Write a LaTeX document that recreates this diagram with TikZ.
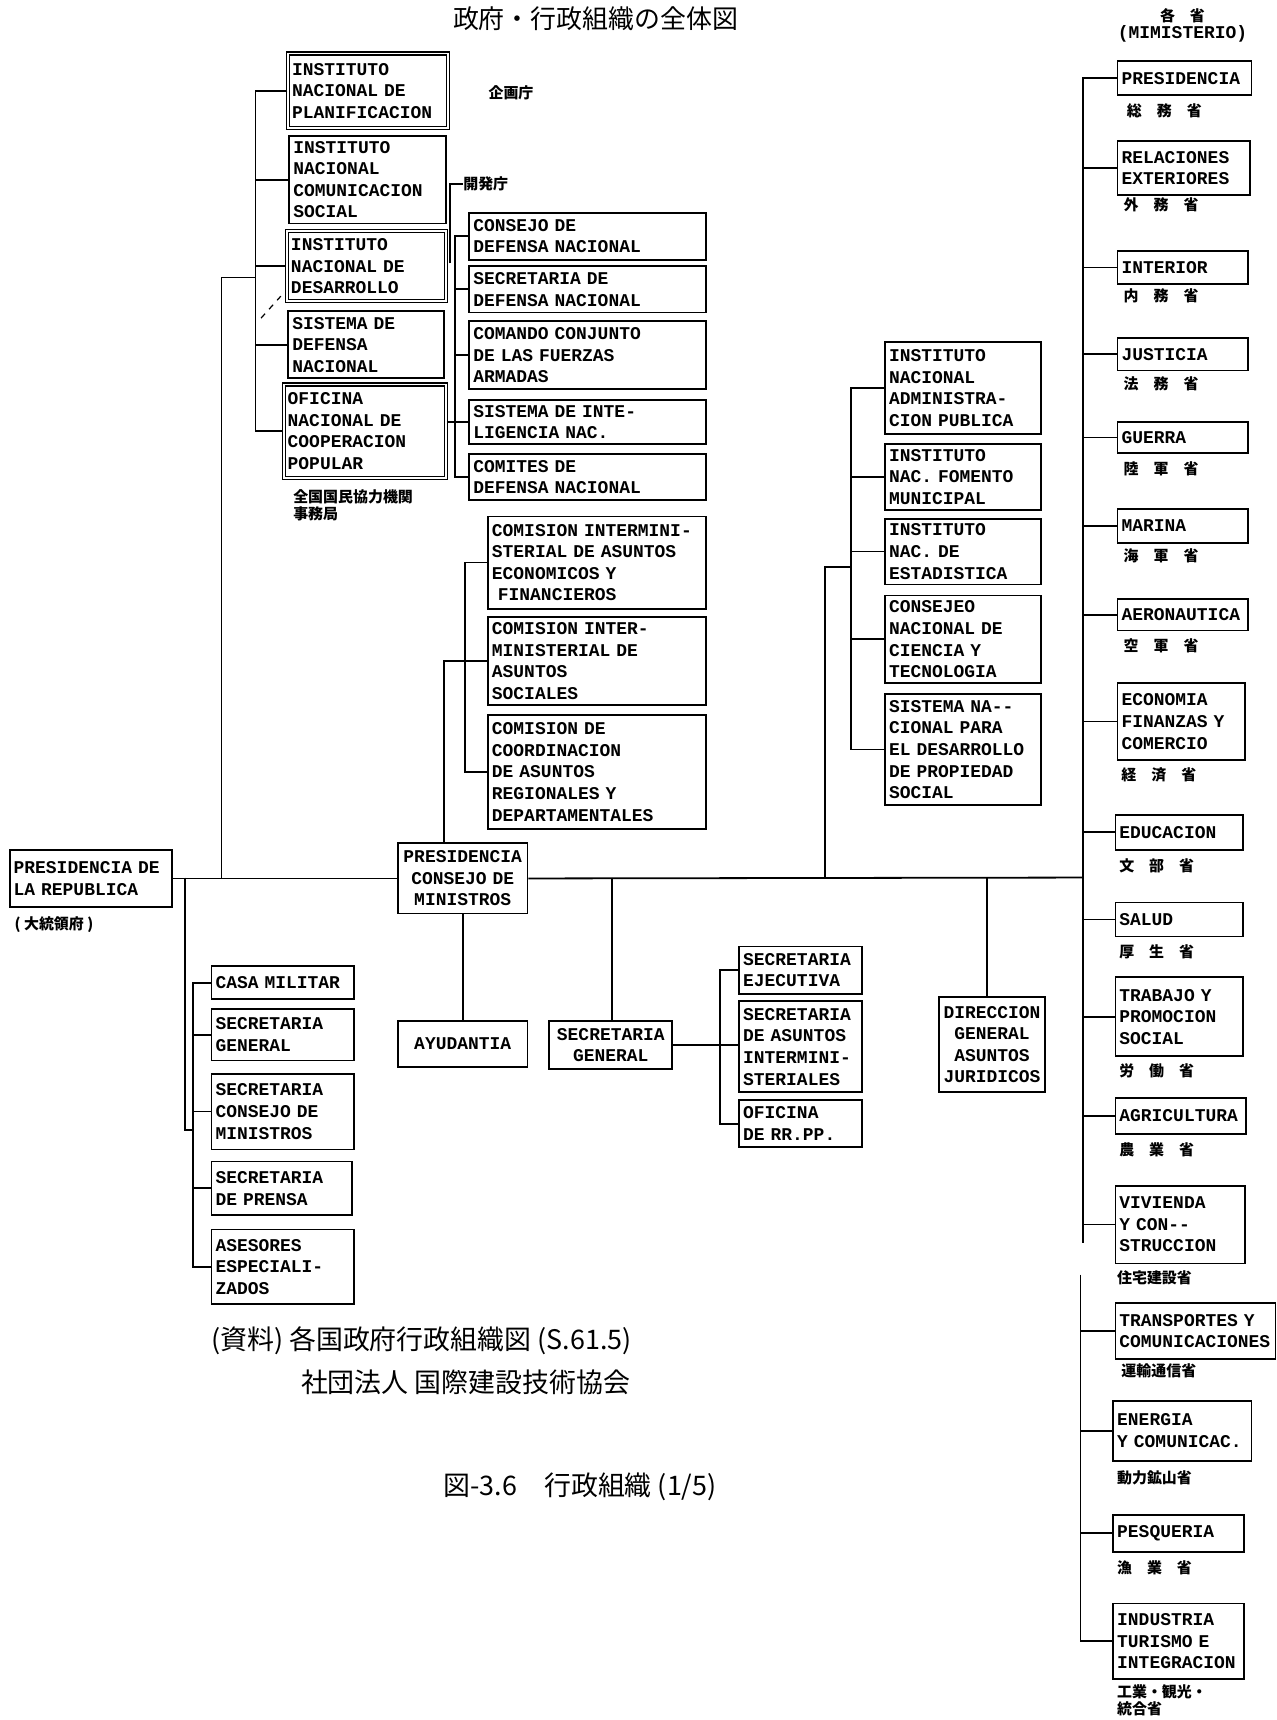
\documentclass[tikz,border=0pt]{standalone}
\usepackage{fontspec}
\setmonofont{Liberation Mono}
\newfontfamily\jp{Noto Sans CJK JP}
\tikzset{
  box/.style={draw, line width=0.9pt, anchor=north west, inner xsep=2pt, inner ysep=1pt,
    align=left, font=\ttfamily\bfseries\fontsize{9}{10.8}\selectfont},
  sz/.code 2 args={\pgfmathsetmacro\boxw{#1*0.55-4}\pgfmathsetmacro\boxh{#2*0.55}%
    \tikzset{text width=\boxw pt, minimum height=\boxh pt}},
  heavy/.style={double, double distance=0.8pt, line width=0.7pt},
  jl/.style={anchor=west, inner sep=0pt, font=\jp\bfseries\fontsize{7.5}{8.5}\selectfont},
  foot/.style={anchor=west, font=\jp\fontsize{13.5}{16}\selectfont},
  link/.style={line width=0.9pt},
}
\begin{document}
\begin{tikzpicture}[x=0.55pt,y=-0.55pt]
\fill[white] (0,0) rectangle (1163,1568);

\node[anchor=north, font=\jp\fontsize{13}{15}\selectfont] (title) at (543,0) {政府・行政組織の全体図};

% president
\node[box, sz={148}{52}] (prep) at (8,774) {PRESIDENCIA DE\\LA REPUBLICA};
\node[jl] (prepj) at (13,843) {( 大統領府 )};

% upper left group
\node[box, heavy, sz={146}{68}] (inp) at (262,48) {INSTITUTO\\NACIONAL DE\\PLANIFICACION};
\node[box, sz={143}{80}] (incs) at (263,123) {INSTITUTO\\NACIONAL\\COMUNICACION\\SOCIAL};
\node[box, heavy, sz={145}{64}] (indes) at (261,210) {INSTITUTO\\NACIONAL DE\\DESARROLLO};
\node[box, sz={142}{61}] (sdn) at (262,283) {SISTEMA DE\\DEFENSA\\NACIONAL};
\node[box, heavy, sz={148}{85}] (oncp) at (258,350) {OFICINA\\NACIONAL DE\\COOPERACION\\POPULAR};
\node[jl] (kikaku) at (445,85) {企画庁};
\node[jl] (kaihatsu) at (422,168) {開発庁};
\node[jl, align=left] (zenkoku) at (267,461) {全国国民協力機関\\事務局};

% defense
\node[box, sz={216}{43}] (cdn) at (427,193) {CONSEJO DE\\DEFENSA NACIONAL};
\node[box, sz={216}{42}] (sdef) at (427,242) {SECRETARIA DE\\DEFENSA NACIONAL};
\node[box, sz={216}{62}] (ccffaa) at (427,292) {COMANDO CONJUNTO\\DE LAS FUERZAS\\ARMADAS};
\node[box, sz={216}{40}] (sint) at (427,364) {SISTEMA DE INTE-\\LIGENCIA NAC.};
\node[box, sz={216}{42}] (cmt) at (427,413) {COMITES DE\\DEFENSA NACIONAL};

% commissions
\node[box, sz={199}{84}] (cimaef) at (444,470) {COMISION INTERMINI-\\STERIAL DE ASUNTOS\\ECONOMICOS Y\\~FINANCIEROS};
\node[box, sz={199}{80}] (cias) at (444,562) {COMISION INTER-\\MINISTERIAL DE\\ASUNTOS\\SOCIALES};
\node[box, sz={199}{104}] (ccard) at (444,651) {COMISION DE\\COORDINACION\\DE ASUNTOS\\REGIONALES Y\\DEPARTAMENTALES};

% institutes
\node[box, sz={142}{84}] (inap) at (806,311) {INSTITUTO\\NACIONAL\\ADMINISTRA-\\CION PUBLICA};
\node[box, sz={142}{60}] (infm) at (806,404) {INSTITUTO\\NAC. FOMENTO\\MUNICIPAL};
\node[box, sz={142}{60}] (ine) at (806,472) {INSTITUTO\\NAC. DE\\ESTADISTICA};
\node[box, sz={142}{80}] (concytec) at (806,542) {CONSEJEO\\NACIONAL DE\\CIENCIA Y\\TECNOLOGIA};
\node[box, sz={142}{101}] (sinadeps) at (806,632) {SISTEMA NA-{}-\\CIONAL PARA\\EL DESARROLLO\\DE PROPIEDAD\\SOCIAL};

% council of ministers
\node[box, align=center, sz={118}{64}] (pcm) at (362,768) {PRESIDENCIA\\CONSEJO DE\\MINISTROS};
\node[box, align=center, sz={118}{42}] (ayud) at (362,930) {AYUDANTIA};
\node[box, align=center, sz={112}{44}] (sg) at (500,930) {SECRETARIA\\GENERAL};
\node[box, sz={112}{43}] (sej) at (673,862) {SECRETARIA\\EJECUTIVA};
\node[box, sz={112}{83}] (sai) at (673,912) {SECRETARIA\\DE ASUNTOS\\INTERMINI-\\STERIALES};
\node[box, sz={112}{43}] (orp) at (673,1002) {OFICINA\\DE RR.PP.};
\node[box, align=center, sz={97}{87}] (dgaj) at (855,908) {DIRECCION\\GENERAL\\ASUNTOS\\JURIDICOS};

% presidency staff
\node[box, sz={130}{30}] (casa) at (192,880) {CASA MILITAR};
\node[box, sz={130}{47}] (sgen) at (192,919) {SECRETARIA\\GENERAL};
\node[box, sz={130}{69}] (scm) at (192,978) {SECRETARIA\\CONSEJO DE\\MINISTROS};
\node[box, sz={128}{49}] (spr) at (192,1058) {SECRETARIA\\DE PRENSA};
\node[box, sz={130}{68}] (ase) at (192,1120) {ASESORES\\ESPECIALI-\\ZADOS};

% ministries
\node[font=\jp\bfseries\fontsize{7.5}{8}\selectfont] (kakusho) at (1078,14) {各\quad 省};
\node[font=\ttfamily\bfseries\fontsize{9}{10}\selectfont] (minist) at (1078,31) {(MIMISTERIO)};
\node[box, sz={122}{31}] (mpres) at (1018,55) {PRESIDENCIA};
\node[box, sz={121}{49}] (mrel) at (1018,128) {RELACIONES\\EXTERIORES};
\node[box, sz={119}{30}] (mint) at (1018,228) {INTERIOR};
\node[box, sz={119}{30}] (mjus) at (1018,307) {JUSTICIA};
\node[box, sz={119}{28}] (mgue) at (1018,384) {GUERRA};
\node[box, sz={119}{31}] (mmar) at (1018,463) {MARINA};
\node[box, sz={119}{29}] (maer) at (1018,545) {AERONAUTICA};
\node[box, sz={116}{70}] (meco) at (1018,622) {ECONOMIA\\FINANZAS Y\\COMERCIO};
\node[box, sz={116}{32}] (medu) at (1016,742) {EDUCACION};
\node[box, sz={116}{31}] (msal) at (1016,822) {SALUD};
\node[box, sz={116}{72}] (mtra) at (1016,890) {TRABAJO Y\\PROMOCION\\SOCIAL};
\node[box, sz={119}{33}] (magr) at (1016,1000) {AGRICULTURA};
\node[box, sz={118}{71}] (mviv) at (1016,1080) {VIVIENDA\\Y CON-{}-\\STRUCCION};
\node[box, sz={146}{51}] (mtrn) at (1016,1187) {TRANSPORTES Y\\COMUNICACIONES};
\node[box, sz={126}{55}] (mene) at (1014,1276) {ENERGIA\\Y COMUNICAC.};
\node[box, sz={119}{34}] (mpes) at (1014,1380) {PESQUERIA};
\node[box, sz={119}{69}] (mind) at (1014,1461) {INDUSTRIA\\TURISMO E\\INTEGRACION};

\node[jl] (jpres) at (1027,101) {総\quad 務\quad 省};
\node[jl] (jrel) at (1024,187) {外\quad 務\quad 省};
\node[jl] (jint) at (1024,270) {内\quad 務\quad 省};
\node[jl] (jjus) at (1024,350) {法\quad 務\quad 省};
\node[jl] (jgue) at (1024,427) {陸\quad 軍\quad 省};
\node[jl] (jmar) at (1024,507) {海\quad 軍\quad 省};
\node[jl] (jaer) at (1024,589) {空\quad 軍\quad 省};
\node[jl] (jeco) at (1022,706) {経\quad 済\quad 省};
\node[jl] (jedu) at (1020,789) {文\quad 部\quad 省};
\node[jl] (jsal) at (1020,868) {厚\quad 生\quad 省};
\node[jl] (jtra) at (1020,976) {労\quad 働\quad 省};
\node[jl] (jagr) at (1020,1048) {農\quad 業\quad 省};
\node[jl] (jviv) at (1018,1165) {住宅建設省};
\node[jl] (jtrn) at (1022,1250) {運輸通信省};
\node[jl] (jene) at (1018,1347) {動力鉱山省};
\node[jl] (jpes) at (1018,1429) {漁\quad 業\quad 省};
\node[jl, align=left] (jind) at (1018,1550) {工業・観光・\\統合省};

% footer
\node[foot] (src1) at (186,1222) {(資料) 各国政府行政組織図 (S.61.5)};
\node[foot] (src2) at (268,1260) {社団法人 国際建設技術協会};
\node[foot] (figcap) at (398,1355) {図-3.6\quad 行政組織 (1/5)};

% main line
\coordinate (trunk) at (987,800);
\draw[link] (prep.east) -- (pcm.west);
\draw[link] (pcm.east) -- (trunk);

% upper left bracket
\coordinate (ulFoot) at (202,800);
\coordinate (ulTop) at (202,253);
\coordinate (ulBr) at (233,253);
\draw[link] (ulFoot) -- (ulTop) -- (ulBr);
\draw[link] (inp.west) -| (ulBr |- oncp.west) -- (oncp.west);
\foreach \n in {incs,indes,sdn}
  \draw[link] (ulBr |- \n.west) -- (\n.west);
\coordinate (khFoot) at (410,240);
\draw[link] (khFoot) |- (kaihatsu.west);
\draw[dashed, line width=0.6pt] (238,290) -- (256,270);

% defense bracket
\coordinate (dfBr) at (415,0);
\draw[link] (cdn.west) -| (dfBr |- cmt.west) -- (cmt.west);
\foreach \n in {sdef,ccffaa}
  \draw[link] (dfBr |- \n.west) -- (\n.west);
\draw[link] (oncp.east |- sint.west) -- (sint.west);

% commissions
\path (pcm.north west) ++(43,0) coordinate (cmFoot);
\draw[link] (cmFoot) |- (cias.west);
\coordinate (cmBr) at (424,0);
\draw[link] (cimaef.west) -| (cmBr |- ccard.west) -- (ccard.west);

% institutes
\coordinate (inFoot) at (752,800);
\coordinate (inBr) at (776,517);
\draw[link] (inFoot) |- (inBr);
\draw[link] (inap.west) -| (inBr |- sinadeps.west) -- (sinadeps.west);
\foreach \n in {infm,ine,concytec}
  \draw[link] (inBr |- \n.west) -- (\n.west);

% lower middle
\draw[link] (pcm.south) -- (ayud.north);
\coordinate (sgFoot) at (558,800);
\draw[link] (sgFoot) -- (sgFoot |- sg.north);
\coordinate (sgBr) at (656,0);
\draw[link] (sg.east) -- (sg.east -| sai.west);
\draw[link] (sej.west) -| (sgBr |- orp.west) -- (orp.west);
\coordinate (djFoot) at (900,800);
\draw[link] (djFoot) -- (djFoot |- dgaj.north);

% lower left
\coordinate (llFoot) at (169,800);
\coordinate (llJog) at (169,1030);
\coordinate (llBr) at (176,1030);
\draw[link] (llFoot) -- (llJog) -- (llBr);
\draw[link] (casa.west) -| (llBr |- ase.west) -- (ase.west);
\foreach \n in {sgen,scm,spr}
  \draw[link] (llBr |- \n.west) -- (\n.west);

% ministries trunk
\coordinate (mtr) at (987,0);
\coordinate (mtrEnd) at (987,1133);
\draw[link] (mpres.west) -| (mtrEnd);
\foreach \n in {mrel,mint,mjus,mgue,mmar,maer,meco,medu,msal,mtra,magr,mviv}
  \draw[link] (mtr |- \n.west) -- (\n.west);
\coordinate (mtr2) at (985,1162);
\draw[link] (mtr2) |- (mind.west);
\foreach \n in {mtrn,mene,mpes}
  \draw[link] (mtr2 |- \n.west) -- (\n.west);
\end{tikzpicture}
\end{document}
